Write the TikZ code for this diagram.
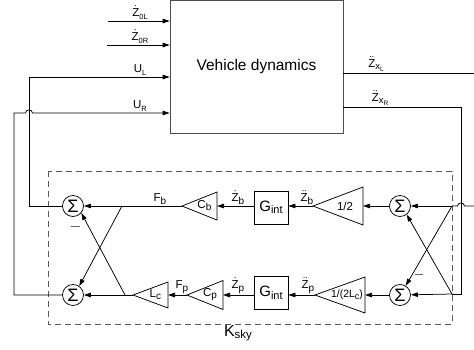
\documentclass[tikz,border=0pt]{standalone}
\usepackage{amsmath}
\usepackage{fontspec}
\setmainfont{Liberation Sans}
\usetikzlibrary{arrows.meta}
\newcommand\sbs[3][2.5pt]{\raisebox{-#1}{\fontsize{#2}{#2}\selectfont #3}}
\newcommand\dZ{$\dot{\text{Z}}$}
\newcommand\ddZ{$\ddot{\text{Z}}$}
\newcommand\gaintri[6]{%
  \coordinate (#1tip) at (#2,#4);
  \coordinate (#1base) at (#3,#4);
  \draw (#1tip) -- (#3,{#4-#5}) -- (#3,{#4+#5}) -- cycle;
  \node[trilbl] (#1) at ({#2+0.64*(#3-#2)},#4) {#6};}
\tikzset{
  lbl/.style={font=\fontsize{11.5}{12}\selectfont, inner sep=1.5pt},
  trilbl/.style={font=\fontsize{11.5}{12}\selectfont, inner sep=0pt},
  sumnode/.style={draw, circle, minimum size=21pt, inner sep=0pt, font=\fontsize{18}{18}\selectfont},
  gbox/.style={draw, minimum width=34pt, minimum height=33pt, inner sep=0pt, font=\fontsize{15}{15}\selectfont},
  minus/.style={inner sep=0pt, text=black!60},
}
\begin{document}
\begin{tikzpicture}[x=1pt,y=-1pt,line width=0.75pt,>={Triangle[length=7pt,width=4.5pt]}]
\useasboundingbox (0,0) rectangle (474,349);
% vehicle dynamics block
\node[draw=black!70, line width=0.6pt, minimum width=173pt, minimum height=133pt,
      font=\fontsize{15.5}{16}\selectfont] (vd) at (256.5,66.5) {Vehicle dynamics};
% key points
\coordinate (iz0l) at (108,21);
\coordinate (iz0r) at (107,45);
\coordinate (cul) at (29,77);
\coordinate (cur) at (14,113);
\coordinate (ozxl) at (474,73);
\coordinate (czr) at (461,107);
\coordinate (inr) at (474,206);
\coordinate (pr) at (452,206);
\coordinate (qr) at (452,294);
\coordinate (pl1) at (122,206);
\coordinate (pl2) at (125,295);
% inputs
\draw[->] (iz0l) -- (iz0l -| vd.west);
\draw[->] (iz0r) -- (iz0r -| vd.west);
\node[lbl,above] (lz0l) at (140,21) {\dZ\sbs{7.5}{0L}};
\node[lbl,above] (lz0r) at (140,45) {\dZ\sbs{7.5}{0R}};
\node[lbl,above] (lul) at (140,77) {U\sbs{7.5}{L}};
\node[lbl,above] (lur) at (140,113) {U\sbs{7.5}{R}};
% outputs
\draw (ozxl -| vd.east) -- (ozxl);
\node[lbl,above] (lzxl) at (376,73) {\ddZ\sbs{9.5}{x\sbs[1.5pt]{6.5}{L}}};
\draw (czr -| vd.east) -- (czr) -- (czr |- qr) -- (qr);
\node[lbl,above] (lzxr) at (380,107) {\ddZ\sbs{9.5}{x\sbs[1.5pt]{6.5}{R}}};
\draw (inr) -- (464.5,206) .. controls (464.5,202) and (457.5,202) .. (457.5,206) -- (pr);
% controller box
\draw[dashed, dash pattern=on 6pt off 4pt, black!65, line width=0.6pt] (48,171) rectangle (452,324);
\node[font=\fontsize{16}{16}\selectfont] (ksky) at (238,333) {K\sbs{11.5}{sky}};
% summing junctions
\node[sumnode] (sl1) at (73,206) {Σ};
\node[sumnode] (sl2) at (73,295) {Σ};
\node[sumnode] (sr1) at (400,206) {Σ};
\node[sumnode] (sr2) at (400,295) {Σ};
\node[minus] (m1) at (75,226) {\rule{9pt}{0.7pt}};
\node[minus] (m2) at (419,274) {\rule{8pt}{0.7pt}};
% gains
\gaintri{th}{313}{363}{206}{19}{1/2}
\gaintri{cb}{182}{217}{206}{14}{C\sbs[2pt]{10}{b}}
\gaintri{tp}{315}{365}{295}{18}{\fontsize{10.5}{11}\selectfont 1/(2L\sbs[2pt]{9}{c})}
\gaintri{cp}{187}{223}{295}{14.5}{C\sbs[2pt]{10}{p}}
\gaintri{lc}{133}{168}{295}{13}{L\sbs[2pt]{10}{c}}
% integrators
\node[gbox] (g1) at (271,207.5) {G\sbs{11}{int}};
\node[gbox] (g2) at (271,293) {G\sbs{11}{int}};
% signal labels
\node[lbl,above] (lfb) at (160,206) {F\sbs{10}{b}};
\node[lbl,above] (lzb) at (238,206) {\dZ\sbs{10}{b}};
\node[lbl,above] (lzbb) at (307,206) {\ddZ\sbs{10}{b}};
\node[lbl,above] (lfp) at (182,295) {F\sbs{10}{p}};
\node[lbl,above] (lzp) at (238,295) {\dZ\sbs{10}{p}};
\node[lbl,above] (lzpp) at (308,295) {\ddZ\sbs{10}{p}};
% upper row
\draw[->] (pr) -- (sr1);
\draw[->] (sr1) -- (thbase);
\draw[->] (thtip) -- (thtip -| g1.east);
\draw[->] (cbbase -| g1.west) -- (cbbase);
\draw[->] (cbtip) -- (sl1);
% lower row
\draw[->] (qr) -- (sr2);
\draw[->] (sr2) -- (tpbase);
\draw[->] (tptip) -- (tptip -| g2.east);
\draw[->] (cpbase -| g2.west) -- (cpbase);
\draw[->] (cptip) -- (lcbase);
\draw[->] (lctip) -- (sl2);
% crossings
\draw[->] (pl1) -- (sl2.55);
\draw[->] (pl2) -- (sl1.-40);
\draw[->] (pr) -- (sr2.58);
\draw[->] (qr) -- (sr1.-52);
% feedback to vehicle
\draw[->] (sl1.west) -| (cul) -- (cul -| vd.west);
\draw[->] (sl2.west) -| (cur) -- (25.5,113) .. controls (25.5,109) and (32.5,109) .. (32.5,113) -- (cur -| vd.west);
\end{tikzpicture}
\end{document}
